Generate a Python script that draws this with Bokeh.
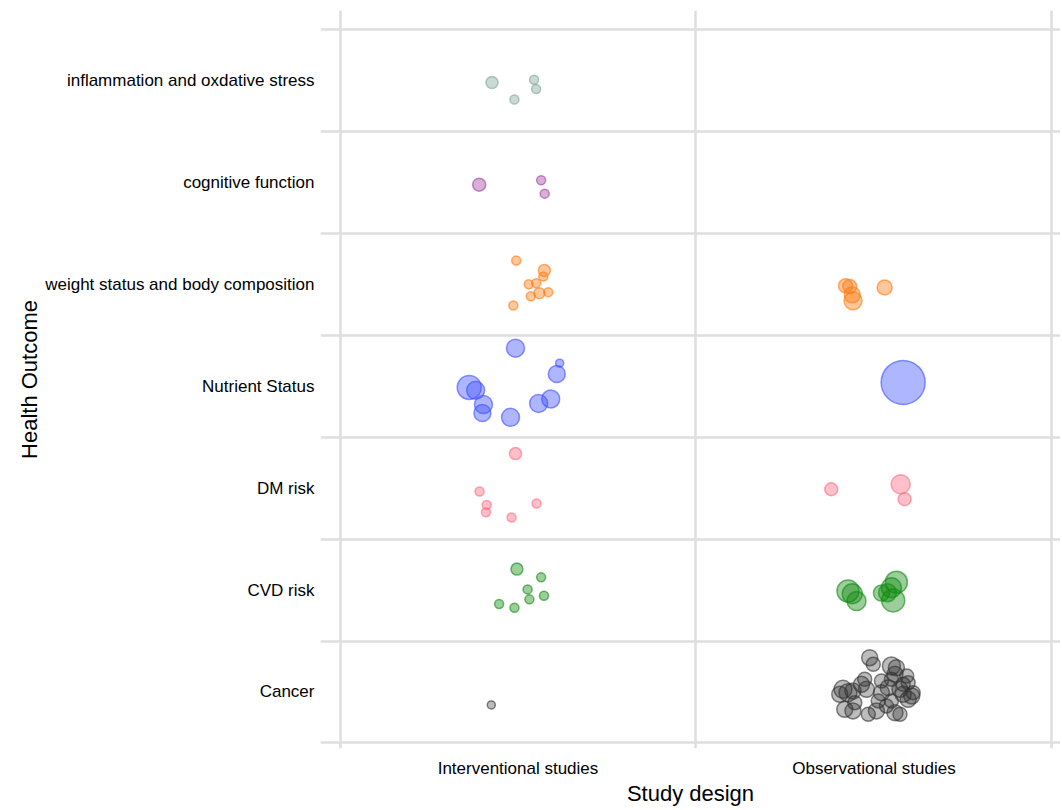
from bokeh.plotting import figure
from bokeh.models import FixedTicker, Range1d, ColumnDataSource
from bokeh.embed import file_html
from bokeh.resources import INLINE

# Categories (bottom to top) and study designs
outcomes = ["Cancer", "CVD risk", "DM risk", "Nutrient Status",
            "weight status and body composition", "cognitive function",
            "inflammation and oxdative stress"]
designs = ["Interventional studies", "Observational studies"]
I, O = designs

# Per-outcome studies: design, jitter offsets within the cell, bubble value
inflam_design = [I, I, I, I]
inflam_dx = [-0.073, 0.045, 0.051, -0.010]
inflam_dy = [-0.017, 0.010, -0.081, -0.183]
inflam_n = [12, 9, 9, 9]

cogn_design = [I, I, I]
cogn_dx = [-0.109, 0.065, 0.075]
cogn_dy = [-0.020, 0.023, -0.108]
cogn_n = [13, 9, 9]

weight_design = [I, I, I, I, I, I, I, I, I, O, O, O, O, O]
weight_dx = [-0.005, 0.074, 0.071, 0.030, 0.051, 0.036, 0.060, 0.085, -0.013,
             -0.080, -0.068, -0.061, -0.059, 0.030]
weight_dy = [0.235, 0.137, 0.078, 0.003, 0.013, -0.115, -0.085, -0.075, -0.206,
             -0.013, -0.020, -0.101, -0.160, -0.029]
weight_n = [9, 12, 9, 9, 9, 9, 11, 9, 9, 14, 14, 16, 18, 15]

nutr_design = [I, I, I, I, I, I, I, I, I, I, O]
nutr_dx = [-0.007, 0.117, 0.109, -0.137, -0.119, -0.097, -0.100, -0.021, 0.058, 0.092, 0.082]
nutr_dy = [0.375, 0.228, 0.121, -0.010, -0.039, -0.179, -0.262, -0.304, -0.167, -0.124, 0.039]
nutr_n = [18, 8, 17, 24, 18, 18, 17, 18, 18, 18, 44]

dm_design = [I, I, I, I, I, I, O, O, O]
dm_dx = [-0.007, -0.108, -0.088, -0.090, -0.018, 0.052, -0.120, 0.075, 0.086]
dm_dy = [0.340, -0.032, -0.164, -0.235, -0.287, -0.150, -0.010, 0.039, -0.108]
dm_n = [12, 9, 9, 9, 9, 9, 13, 19, 13]

cvd_design = [I, I, I, I, I, I, I, O, O, O, O, O, O, O, O]
cvd_dx = [-0.003, 0.065, 0.027, 0.073, 0.032, -0.053, -0.010,
          -0.073, -0.061, -0.049, 0.063, 0.038, 0.054, 0.049, 0.021]
cvd_dy = [0.206, 0.125, 0.007, -0.056, -0.091, -0.137, -0.174,
          -0.010, -0.036, -0.108, 0.078, -0.026, -0.101, 0.023, -0.029]
cvd_n = [12, 9, 9, 9, 9, 9, 9, 22, 20, 19, 22, 18, 23, 20, 16]

cancer_design = [I] + [O] * 34
cancer_dx = [-0.075,
             -0.012, -0.002, 0.049, 0.063, 0.059, 0.092, 0.096, -0.026, -0.035, -0.087,
             -0.073, -0.096, -0.059, -0.021, 0.021, 0.040, 0.073, 0.082, 0.106, 0.096,
             0.049, 0.012, -0.054, -0.082, -0.059, -0.016, 0.007, 0.035, 0.059, 0.073,
             0.049, 0.021, 0.110, 0.082]
cancer_dy = [-0.127,
             0.336, 0.272, 0.255, 0.238, 0.174, 0.157, 0.091, 0.125, 0.075, 0.026,
             -0.007, -0.023, 0.010, 0.026, -0.007, 0.042, 0.026, -0.023, -0.039, -0.072,
             -0.088, -0.088, -0.105, -0.170, -0.186, -0.219, -0.186, -0.137, -0.203, -0.219,
             0.125, 0.108, -0.007, 0.075]
cancer_n = [8,
            16, 14, 18, 16, 16, 14, 14, 14, 16, 18,
            18, 16, 16, 16, 16, 16, 16, 16, 16, 16,
            14, 14, 14, 16, 16, 14, 16, 14, 16, 14,
            14, 14, 14, 14]

groups = [
    ("inflammation and oxdative stress", inflam_design, inflam_dx, inflam_dy, inflam_n, "#7fa595", 0.42),
    ("cognitive function", cogn_design, cogn_dx, cogn_dy, cogn_n, "#a040a0", 0.42),
    ("weight status and body composition", weight_design, weight_dx, weight_dy, weight_n, "#ff7a10", 0.42),
    ("Nutrient Status", nutr_design, nutr_dx, nutr_dy, nutr_n, "#3f50ff", 0.42),
    ("DM risk", dm_design, dm_dx, dm_dy, dm_n, "#ff6a80", 0.42),
    ("CVD risk", cvd_design, cvd_dx, cvd_dy, cvd_n, "#108a10", 0.42),
    ("Cancer", cancer_design, cancer_dx, cancer_dy, cancer_n, "#303030", 0.32),
]

FONT = "Liberation Sans"

p = figure(width=1060, height=808, output_backend="svg", toolbar_location=None,
           x_range=Range1d(-0.0548, 2.024), y_range=Range1d(-0.055, 7.19),
           min_border_left=320, min_border_right=0, min_border_top=10, min_border_bottom=58)
p.outline_line_color = None
p.background_fill_color = "white"

for outcome, des, dx, dy, n, col, fa in groups:
    yi = outcomes.index(outcome)
    xs = [designs.index(d) + 0.5 + ox for d, ox in zip(des, dx)]
    ys = [yi + 0.5 + oy for oy in dy]
    src = ColumnDataSource(dict(x=xs, y=ys, n=n))
    p.scatter("x", "y", size="n", source=src, marker="circle",
              fill_color=col, fill_alpha=fa, line_color=col, line_alpha=0.6,
              line_width=1.5)

# axes
p.xaxis.ticker = FixedTicker(ticks=[0.5, 1.5])
p.xaxis.major_label_overrides = {0.5: designs[0], 1.5: designs[1]}
p.yaxis.ticker = FixedTicker(ticks=[i + 0.5 for i in range(len(outcomes))])
p.yaxis.major_label_overrides = {i + 0.5: o for i, o in enumerate(outcomes)}
p.xaxis.axis_label = "Study design"
p.yaxis.axis_label = "Health Outcome"
for ax in (p.xaxis[0], p.yaxis[0]):
    ax.axis_line_color = None
    ax.major_tick_line_color = None
    ax.minor_tick_line_color = None
    ax.major_label_text_font = FONT
    ax.major_label_text_font_size = "17px"
    ax.major_label_text_color = "black"
    ax.axis_label_text_font = FONT
    ax.axis_label_text_font_size = "22px"
    ax.axis_label_text_font_style = "normal"
    ax.axis_label_text_color = "black"
    ax.axis_label_standoff = 0
p.xaxis.major_label_standoff = 4
p.yaxis.major_label_standoff = 0

# grid lines on category boundaries
p.xgrid.ticker = FixedTicker(ticks=[0, 1, 2])
p.ygrid.ticker = FixedTicker(ticks=list(range(len(outcomes) + 1)))
for g in (p.xgrid[0], p.ygrid[0]):
    g.grid_line_color = "#dedede"
    g.grid_line_width = 2.5
    g.grid_line_alpha = 1.0

open("out.html", "w").write(file_html(p, INLINE))
